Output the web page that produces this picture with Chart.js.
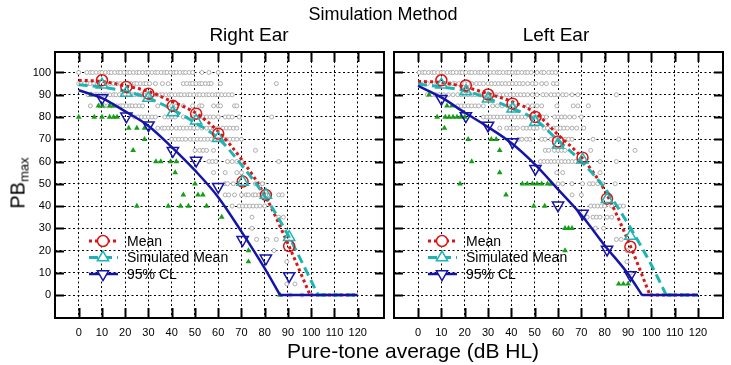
<!DOCTYPE html>
<html>
<head>
<meta charset="utf-8">
<style>
    body { margin: 0; background: #fff; }
    #figure { position: relative; width: 731px; height: 365px; font-family: 'Liberation Sans', Arial, sans-serif; color: #000; overflow: hidden; }
    .panel { position: absolute; top: 0; height: 365px; }
    #leftPanel { left: 0; width: 392px; }
    #rightPanel { left: 386px; width: 345px; }
    .label { position: absolute; white-space: nowrap; transform: translateX(-50%); }
    #yTitle { position: absolute; left: 21px; top: 183px; font-size: 20px; line-height: 22px; white-space: nowrap; transform: translate(-50%, -50%) rotate(-90deg); }
    #yTitle sub { font-size: 13px; vertical-align: -4px; }
</style>
</head>
<body>
<div id="figure">
    <div class="panel" id="leftPanel"><canvas id="leftChart"></canvas></div>
    <div class="panel" id="rightPanel"><canvas id="rightChart"></canvas></div>
    <div class="label" style="left:383px;top:4px;font-size:18px;line-height:20px">Simulation Method</div>
    <div class="label" style="left:249px;top:24px;font-size:19px;line-height:22px">Right Ear</div>
    <div class="label" style="left:556px;top:24px;font-size:19px;line-height:22px">Left Ear</div>
    <div class="label" style="left:413px;top:339px;font-size:21px;line-height:24px">Pure-tone average (dB HL)</div>
    <div id="yTitle">PB<sub>max</sub></div>
</div>

<script src="https://cdn.jsdelivr.net/npm/chart.js@4/dist/chart.umd.min.js"></script>
<script>
    // axis ticks
    const xTicks = [0, 10, 20, 30, 40, 50, 60, 70, 80, 90, 100, 110, 120];
    const yTicks = [0, 10, 20, 30, 40, 50, 60, 70, 80, 90, 100];
    const flatEndX = 120;

    // ---- right ear (left panel) ----
    const leftMeanCurveX = [0, 10, 20, 30, 40, 50, 60, 70, 80, 90, 99.5];
    const leftMeanCurveY = [96.5, 96, 94, 91.5, 87, 82, 73.5, 61, 45, 23, 0];
    const leftSimCurveX = [0, 10, 20, 30, 40, 50, 60, 70, 80, 90, 103];
    const leftSimCurveY = [94.5, 93.5, 91.5, 88.5, 83.5, 77.5, 70.5, 58.5, 44.5, 27, 0];
    const leftCLCurveX = [0, 10, 20, 30, 40, 50, 60, 70, 80, 86.6];
    const leftCLCurveY = [92, 88.5, 82.5, 76, 66.5, 56, 44, 28.5, 12, 0];

    const leftBinX = [10, 20.5, 30, 40.5, 50.5, 60, 70.5, 80.5, 90.5];
    const leftMeanPts = [96.5, 93.5, 90.5, 85, 81.5, 72.5, 51, 45, 22];
    const leftSimPts = [94.5, 90.8, 88.5, 82, 78.3, 70.5, 50.8, 45, 26];
    const leftCLPts = [88.5, 80.3, 76.3, 64.8, 60.5, 48.7, 24.8, 16.5, 8.6];

    // each row: [PB, pta, pta, ...]
    const leftGrayRows = [
        [100, 0, 3.5, 5, 6, 7.5, 9, 10, 11.5, 13, 14, 15.5, 17, 18, 19.5, 21, 22, 23.5, 25, 26, 27.5, 29, 30, 31.5, 33, 34, 35.5, 37, 38, 39.5, 41, 42, 43.5, 45, 46, 47.5, 49, 53, 56, 60],
        [95, 0, 1, 2.5, 4, 5, 6.5, 8, 12, 13.5, 15, 16.5, 18, 22.5, 24, 25, 26.5, 28, 29, 30.5, 33, 36, 38.5, 45, 46.5, 48, 49, 50.5, 52, 53, 54.5, 56, 57, 61, 85],
        [90, 4, 5.5, 7, 8, 9.5, 11, 12, 13.5, 15, 16, 17.5, 19, 20, 21.5, 23, 24, 25.5, 27, 28, 29.5, 31, 32, 33.5, 35, 36, 37.5, 39, 40, 41.5, 43, 44, 45.5, 47, 48, 49.5, 51, 52, 53.5, 55, 56, 57.5, 59, 60, 61.5, 63, 64.5, 66],
        [85, 5, 9, 11, 12.5, 14, 15, 16.5, 18, 19, 20.5, 22, 23, 24.5, 26, 27.5, 34, 40, 42, 45, 49, 52, 53, 58, 60, 61, 67, 68],
        [80, 24, 25.5, 27, 28.5, 30, 31.5, 33, 37, 38.5, 40, 41.5, 45, 49, 50.5, 52, 53.5, 55, 56.5, 58, 60, 63, 64.5, 66, 69, 83],
        [75, 34, 36, 37, 38.5, 40, 42, 43.5, 45, 46.5, 48, 49.5, 51, 53, 55, 56.5, 58, 60, 62, 63.5, 65, 66.5, 68],
        [70, 40, 41.5, 43, 44.5, 46, 48, 49.5, 51, 52.5, 54, 55.5, 57, 58.5, 60, 62, 63.5, 65, 66.5, 68, 70],
        [65, 50, 52, 53.5, 55, 58, 76],
        [60, 56, 57.5, 59, 64, 66, 68, 70, 86],
        [55, 58, 63, 68, 70],
        [50, 63, 64, 66.5, 76, 77.5, 79],
        [45, 63, 64.5, 67, 70, 72, 73, 75, 76, 77.5, 79, 80.5, 82, 86, 87.5],
        [40, 66, 69, 70.5, 72, 73.5, 75, 76.5, 78, 80],
        [35, 74.5, 86, 88],
        [30, 74.5],
        [25, 76.5, 81, 85],
        [20, 84],
        [15, 89.5],
        [5, 89.5, 93],
        [0, 91, 96]
    ];
    const leftGreenRows = [
        [90, 5.3],
        [85, 8.5, 10.2, 13.3, 15],
        [80, 0, 6.7, 10, 13.3, 15, 16.5],
        [75, 21.5, 25, 28.3],
        [70, 28.3],
        [65, 23.4],
        [60, 33.2, 35.3, 39.5, 42],
        [55, 41.5],
        [50, 50],
        [45, 45, 51.3, 53.4],
        [40, 25, 38.5, 43.8, 47.2, 55],
        [35, 61.5],
        [20, 73],
        [15, 73],
        [0, 86.6]
    ];

    // ---- left ear (right panel) ----
    const rightMeanCurveX = [0, 10, 20, 30, 40, 50, 60, 70, 80, 90, 99.4];
    const rightMeanCurveY = [96, 95.5, 93.5, 90.5, 87, 82, 72, 62, 47, 24.5, 0];
    const rightSimCurveX = [0, 10, 20, 30, 40, 50, 60, 70, 80, 90, 100, 106.4];
    const rightSimCurveY = [94.8, 93.5, 91.8, 88.3, 84, 79, 69.5, 60, 48, 32, 13.5, 0];
    const rightCLCurveX = [0, 10, 20, 30, 40, 50, 60, 70, 80, 90, 96];
    const rightCLCurveY = [94, 88.8, 82, 75.5, 68.3, 58.8, 47.5, 36, 22.3, 9.5, 0];

    const rightBinX = [10, 20.5, 30, 40.5, 50.3, 60, 70.5, 81, 91];
    const rightMeanPts = [96.5, 94.2, 90.1, 86, 80, 69, 61.7, 43.3, 21.7];
    const rightSimPts = [94.5, 91.5, 88.2, 83.7, 77.7, 67.5, 60.8, 43, 26.5];
    const rightCLPts = [88.2, 80.4, 76.2, 68.8, 56.8, 40.3, 36.7, 20.5, 9];

    const rightGrayRows = [
        [100, 0.5, 2, 3, 4.5, 6, 7, 8.5, 10, 11, 12.5, 14, 15, 16.5, 18, 19, 20.5, 22, 23, 24.5, 26, 27, 28.5, 30, 31, 32.5, 34, 35, 36.5, 38, 39, 40.5, 42, 43, 44.5, 46, 47, 48.5, 51, 53, 54, 56, 57.5, 59],
        [95, 1, 2.5, 4, 7, 8, 9.5, 11, 12, 13.5, 15, 16, 17.5, 19, 20, 21.5, 23, 25, 26.5, 28, 30, 31.5, 33, 34.5, 36, 37.5, 39, 40.5, 42, 43.5, 45, 47, 49, 50.5, 53, 55, 58, 59.5],
        [90, 4, 6, 7.5, 9, 11, 13, 15, 17, 18.5, 20, 21.5, 23, 24.5, 26, 27.5, 29, 30.5, 32, 33.5, 35, 36.5, 38, 39.5, 41, 42.5, 44, 45.5, 47, 49, 51, 53.5, 55, 57, 58.5, 60, 62, 63.5, 66, 68.5, 85],
        [85, 17, 18.5, 20, 21.5, 23, 24.5, 26, 28, 32, 34, 36, 38.5, 41, 47, 49, 51, 53, 59.5, 66.5, 68.5, 73],
        [80, 28, 29.5, 31, 32.5, 34, 35.5, 37, 38.5, 40, 41.5, 43, 44.5, 46, 49, 50.5, 52, 53.5, 55, 58.5, 60, 61.5, 63, 65, 67, 70],
        [75, 35, 38, 39.5, 41, 42.5, 45, 46.5, 48, 49.5, 51, 54, 55.5, 58, 59.5, 61, 62.5, 64, 66, 68, 71],
        [70, 43, 44.5, 46.5, 48, 53, 54.5, 57, 58.5, 60, 61.5, 63, 64.5, 66, 75, 86],
        [65, 54.5, 56, 58.5, 60, 61.5, 63, 74, 93],
        [60, 52.5, 54, 55.5, 57, 58.5, 60, 61.5, 63, 64.5, 66, 67.5, 69, 78, 85],
        [55, 59.5, 62, 78],
        [50, 57, 60, 62, 66, 70.5, 73.5, 75, 77, 79, 84.5],
        [45, 66, 70],
        [40, 74, 75.5, 77, 78.5, 80, 83, 86.5, 88],
        [35, 72.5, 75, 76.5, 78, 81, 83],
        [30, 76, 79.5],
        [25, 85, 87],
        [20, 89.5],
        [15, 89.5],
        [10, 91]
    ];
    const rightGreenRows = [
        [90, 4.7],
        [85, 12.4, 14.5],
        [80, 8.2, 11.7, 13.3, 15, 16.7, 18.3, 20],
        [75, 11.3],
        [70, 21.5, 31.4, 33.5],
        [65, 35],
        [60, 23],
        [55, 35],
        [50, 18, 44.7, 46.8, 49, 51, 53, 55.5, 57],
        [45, 37.7],
        [40, 49.6, 54.3],
        [30, 63, 64.5, 66],
        [20, 63],
        [5, 86, 88, 90]
    ];

    const legendLabels = ['Mean', 'Simulated Mean', '95% CL'];

    const styles = [
        { color: '#dc1414', width: 3, dash: [3, 3], marker: 'circle', radius: 5.5, rotation: 0 },
        { color: '#1eb4b4', width: 3, dash: [9, 5], marker: 'triangle', radius: 6.5, rotation: 0 },
        { color: '#1414aa', width: 2.5, dash: [], marker: 'triangle', radius: 6.5, rotation: 180 }
    ];

    Chart.defaults.font.family = "'Liberation Sans Narrow', 'Liberation Sans', sans-serif";
    Chart.defaults.font.size = 11;
    Chart.defaults.color = '#000';

    function toPoints(xs, ys) {
        return xs.map((x, i) => ({ x: x, y: ys[i] }));
    }

    function rowsToPoints(rows) {
        const points = [];
        rows.forEach(row => row.slice(1).forEach(x => points.push({ x: x, y: row[0] })));
        return points;
    }

    function drawMarker(ctx, style, x, y) {
        const r = style.radius;
        ctx.save();
        ctx.setLineDash([]);
        ctx.strokeStyle = style.color;
        ctx.fillStyle = '#fff';
        ctx.lineWidth = 1.5;
        ctx.beginPath();
        if (style.marker === 'circle') {
            ctx.arc(x, y, r, 0, Math.PI * 2);
        } else {
            const dir = style.rotation ? -1 : 1;
            const half = r * Math.sin(Math.PI / 3);
            ctx.moveTo(x, y - dir * r);
            ctx.lineTo(x + half, y + dir * r / 2);
            ctx.lineTo(x - half, y + dir * r / 2);
            ctx.closePath();
        }
        ctx.fill();
        ctx.stroke();
        ctx.restore();
    }

    const innerLegend = {
        id: 'innerLegend',
        afterDatasetsDraw(chart) {
            const ctx = chart.ctx;
            const area = chart.chartArea;
            ctx.save();
            ctx.font = "14px 'Liberation Sans', sans-serif";
            ctx.fillStyle = '#000';
            ctx.textBaseline = 'middle';
            legendLabels.forEach((label, i) => {
                const style = styles[i];
                const y = area.top + 189 + i * 16.5;
                ctx.save();
                ctx.strokeStyle = style.color;
                ctx.lineWidth = style.width;
                ctx.setLineDash(style.dash);
                ctx.beginPath();
                ctx.moveTo(area.left + 34, y);
                ctx.lineTo(area.left + 63, y);
                ctx.stroke();
                ctx.restore();
                drawMarker(ctx, style, area.left + 48, y);
                ctx.fillText(label, area.left + 72, y + 1);
            });
            ctx.restore();
        }
    };

    const frame = {
        id: 'frame',
        afterDraw(chart) {
            const ctx = chart.ctx;
            const a = chart.chartArea;
            const xs = chart.scales.x;
            const ys = chart.scales.y;
            ctx.save();
            ctx.strokeStyle = '#000';
            ctx.lineWidth = 2;
            ctx.setLineDash([]);
            ctx.strokeRect(a.left, a.top, a.right - a.left, a.bottom - a.top);
            ctx.beginPath();
            xTicks.forEach(v => {
                const px = Math.round(xs.getPixelForValue(v)) + 0.5;
                ctx.moveTo(px, a.top);
                ctx.lineTo(px, a.top + 10);
                ctx.moveTo(px, a.bottom);
                ctx.lineTo(px, a.bottom - 10);
            });
            yTicks.forEach(v => {
                const py = Math.round(ys.getPixelForValue(v)) + 0.5;
                ctx.moveTo(a.left, py);
                ctx.lineTo(a.left + 9, py);
                ctx.moveTo(a.right, py);
                ctx.lineTo(a.right - 9, py);
            });
            ctx.stroke();
            ctx.restore();
        }
    };

    function curveDataset(points, style, order) {
        return {
            type: 'line',
            data: points,
            showLine: true,
            borderColor: style.color,
            borderWidth: style.width,
            borderDash: style.dash,
            pointRadius: 0,
            fill: false,
            cubicInterpolationMode: 'monotone',
            order: order
        };
    }

    function markerDataset(points, style, order) {
        return {
            data: points,
            showLine: false,
            pointStyle: style.marker,
            pointRotation: style.rotation,
            pointRadius: style.radius,
            pointBorderWidth: 1.5,
            pointBorderColor: style.color,
            pointBackgroundColor: 'rgba(0,0,0,0)',
            order: order
        };
    }

    function makePanel(canvasId, panel) {
        const datasets = [];
        panel.curves.forEach((c, i) => {
            const points = toPoints(c.x, c.y);
            datasets.push(curveDataset(points, styles[i], 5 - i));
            datasets.push(curveDataset([{ x: c.x[c.x.length - 1], y: 0 }, { x: flatEndX, y: 0 }], styles[i], 5 - i));
        });
        panel.markers.forEach((m, i) => {
            datasets.push(markerDataset(toPoints(panel.binX, m), styles[i], 2 - i));
        });
        datasets.push({
            data: rowsToPoints(panel.green),
            pointStyle: 'triangle',
            pointRadius: 3.3,
            pointBorderWidth: 0,
            pointBackgroundColor: '#14a014',
            pointBorderColor: '#14a014',
            order: 6
        });
        datasets.push({
            data: rowsToPoints(panel.gray),
            pointStyle: 'circle',
            pointRadius: 2,
            pointBorderWidth: 1,
            pointBackgroundColor: '#fff',
            pointBorderColor: '#adadad',
            order: 7
        });

        const gridOpts = { color: '#000', lineWidth: 1, drawTicks: false };
        const borderOpts = { display: false, dash: [2, 2.5] };

        return new Chart(document.getElementById(canvasId), {
            type: 'scatter',
            data: { datasets: datasets },
            options: {
                responsive: true,
                maintainAspectRatio: false,
                animation: false,
                events: [],
                layout: { padding: panel.padding },
                plugins: { legend: { display: false }, tooltip: { enabled: false } },
                scales: {
                    x: {
                        type: 'linear',
                        min: panel.xMin,
                        max: panel.xMax,
                        grid: gridOpts,
                        border: borderOpts,
                        afterBuildTicks: s => { s.ticks = xTicks.map(v => ({ value: v })); },
                        afterFit: s => { s.height = 47; },
                        ticks: { padding: 8, maxRotation: 0, autoSkip: false }
                    },
                    y: {
                        type: 'linear',
                        min: -10.3,
                        max: 109.2,
                        grid: gridOpts,
                        border: borderOpts,
                        afterBuildTicks: s => { s.ticks = yTicks.map(v => ({ value: v })); },
                        afterFit: s => { s.width = panel.yWidth; },
                        ticks: { display: panel.yLabels, padding: 4 }
                    }
                }
            },
            plugins: [innerLegend, frame]
        });
    }

    makePanel('leftChart', {
        curves: [
            { x: leftMeanCurveX, y: leftMeanCurveY },
            { x: leftSimCurveX, y: leftSimCurveY },
            { x: leftCLCurveX, y: leftCLCurveY }
        ],
        binX: leftBinX,
        markers: [leftMeanPts, leftSimPts, leftCLPts],
        gray: leftGrayRows,
        green: leftGreenRows,
        xMin: -10.2,
        xMax: 131.3,
        yWidth: 55,
        yLabels: true,
        padding: { top: 52, right: 1, bottom: 0, left: 0 }
    });

    makePanel('rightChart', {
        curves: [
            { x: rightMeanCurveX, y: rightMeanCurveY },
            { x: rightSimCurveX, y: rightSimCurveY },
            { x: rightCLCurveX, y: rightCLCurveY }
        ],
        binX: rightBinX,
        markers: [rightMeanPts, rightSimPts, rightCLPts],
        gray: rightGrayRows,
        green: rightGreenRows,
        xMin: -10.3,
        xMax: 130.7,
        yWidth: 0,
        yLabels: false,
        padding: { top: 52, right: 5, bottom: 0, left: 5 }
    });
</script>
</body>
</html>
